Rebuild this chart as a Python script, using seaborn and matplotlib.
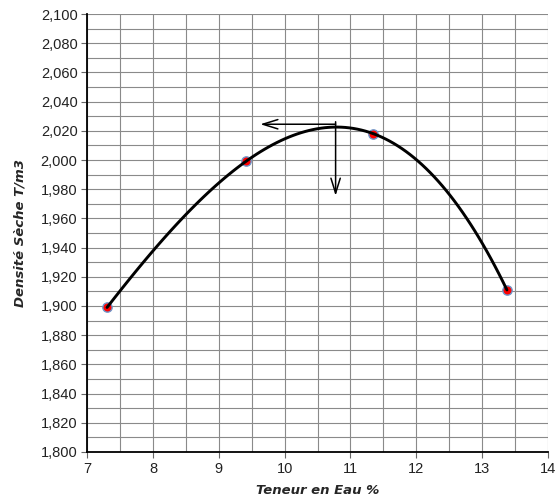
import numpy as np
import pandas as pd
import matplotlib
matplotlib.use("Agg")
import matplotlib.pyplot as plt
import seaborn as sns
from matplotlib.ticker import MultipleLocator, FuncFormatter

# Data
teneur_eau = [7.30, 9.41, 11.35, 13.38]
densite_seche = [1.899, 1.999, 2.018, 1.911]

# Optimum reading (arrows)
opt_x = 10.775
opt_y = 2.0245
arrow_top_y = 2.0262
arrow_left_x = 9.63
arrow_down_y = 1.9755

x_label = "Teneur en Eau %"
y_label = "Densité Sèche T/m3"

df = pd.DataFrame({"w": teneur_eau, "d": densite_seche})

sns.set_theme(style="white")
plt.rcParams["font.family"] = ["Liberation Sans", "DejaVu Sans"]

fig = plt.figure(figsize=(5.55, 5.04), dpi=100)
ax = fig.add_axes([0.1573, 0.1032, 0.8296, 0.869])

sns.regplot(data=df, x="w", y="d", order=3, ci=None, scatter=False,
            truncate=True, ax=ax, line_kws={"color": "black", "lw": 2.1, "zorder": 4})
sns.scatterplot(data=df, x="w", y="d", ax=ax, color="red", s=45,
                edgecolor="#6f95c8", linewidth=1.0, zorder=3)

ax.annotate("", xy=(arrow_left_x, opt_y), xytext=(opt_x, opt_y),
            arrowprops=dict(arrowstyle="->,head_length=0.9,head_width=0.28",
                            color="black", lw=1.1, shrinkA=0, shrinkB=0), zorder=5)
ax.annotate("", xy=(opt_x, arrow_down_y), xytext=(opt_x, arrow_top_y),
            arrowprops=dict(arrowstyle="->,head_length=0.9,head_width=0.28",
                            color="black", lw=1.1, shrinkA=0, shrinkB=0), zorder=5)

ax.set_xlim(7, 14)
ax.set_ylim(1.8, 2.1)
ax.xaxis.set_major_locator(MultipleLocator(1))
ax.xaxis.set_minor_locator(MultipleLocator(0.5))
ax.yaxis.set_major_locator(MultipleLocator(0.02))
ax.yaxis.set_minor_locator(MultipleLocator(0.01))
ax.yaxis.set_major_formatter(FuncFormatter(lambda v, p: f"{v:.3f}".replace(".", ",")))

ax.grid(True, which="both", color="#8a8a8a", lw=0.8)
ax.set_axisbelow(True)
for s in ["top", "right"]:
    ax.spines[s].set_visible(False)
for s in ["left", "bottom"]:
    ax.spines[s].set_color("black")
    ax.spines[s].set_linewidth(1.3)

ax.tick_params(axis="both", which="major", length=4, width=0.8, color="#666666",
               labelsize=10.5, labelcolor="#222222", pad=3, direction="out",
               bottom=True, left=True)
ax.tick_params(axis="both", which="minor", length=0)

ax.set_xlabel(x_label, fontsize=9.5, fontweight="bold", fontstyle="italic",
              family=["DejaVu Sans"], labelpad=6)
ax.set_ylabel(y_label, fontsize=9.5, fontweight="bold", fontstyle="italic",
              family=["DejaVu Sans"], labelpad=10)

fig.savefig("out.png", dpi=100)
